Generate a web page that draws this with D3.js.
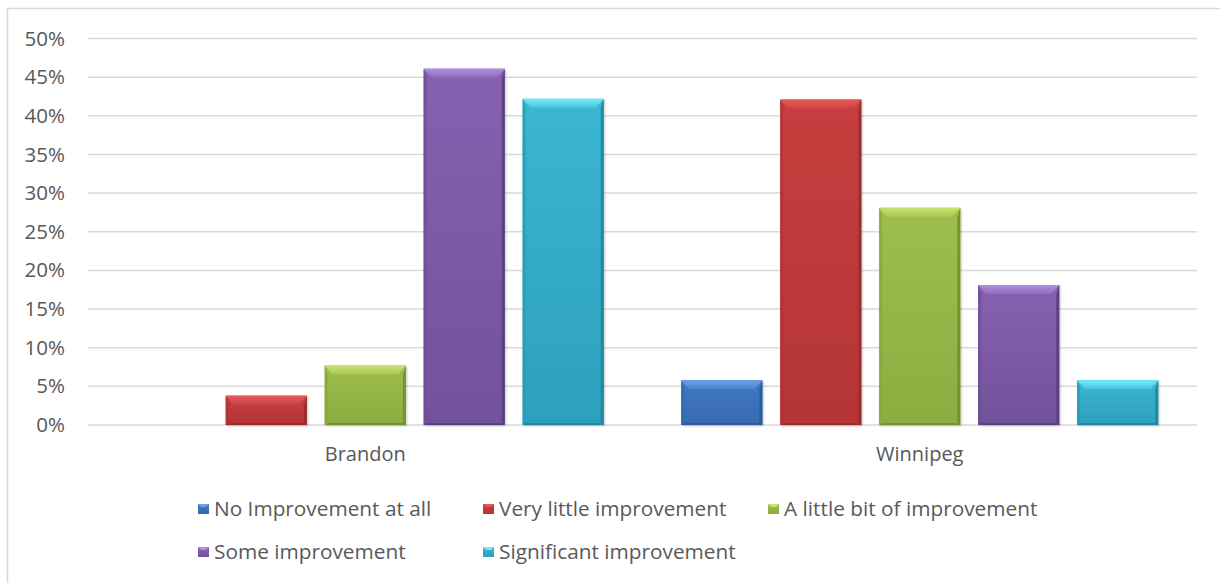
<!DOCTYPE html>
<html><head><meta charset="utf-8">
<script src="https://cdn.jsdelivr.net/npm/d3@7"></script>
<style>
html,body{margin:0;padding:0;background:#fff;}
svg{display:block;font-family:"Open Sans",sans-serif;}
</style></head>
<body>
<svg id="chart" width="1220" height="583"></svg>
<script>
const categories = ["Brandon", "Winnipeg"];
const seriesNames = ["No Improvement at all", "Very little improvement", "A little bit of improvement", "Some improvement", "Significant improvement"];
const brandonValues = [0, 3.8, 7.7, 46.1, 42.2];
const winnipegValues = [5.8, 42.1, 28.1, 18.1, 5.8];
const yTicks = [0, 5, 10, 15, 20, 25, 30, 35, 40, 45, 50];
const seriesColors = ["#3a72bd", "#c0393b", "#97b948", "#7d5aa8", "#31adca"];
const seriesLights = ["#6da3e3", "#e65a58", "#c8e46e", "#b08fe0", "#74ecfa"];
const seriesDarks = ["#2a5796", "#982c2b", "#6f8d2d", "#573c7c", "#1f819c"];

const valuesByCat = [brandonValues, winnipegValues];
const svg = d3.select("#chart");

// chart border
svg.append("rect").attr("x", 7.5).attr("y", 8.5).attr("width", 1230).attr("height", 600)
  .attr("fill", "#fff").attr("stroke", "#d9d9d9").attr("stroke-width", 1.5);

const plot = {left: 88, right: 1197, top: 38.5, bottom: 425};
const y = d3.scaleLinear().domain([0, 50]).range([plot.bottom, plot.top]);
const x0 = d3.scaleBand().domain(categories).range([plot.left, plot.right]).padding(0);
const groupW = 477;
const x1 = d3.scaleBand().domain(seriesNames).range([0, groupW]).paddingInner(0.18).paddingOuter(0);

// gridlines
svg.append("g").selectAll("line").data(yTicks).join("line")
  .attr("x1", plot.left).attr("x2", plot.right)
  .attr("y1", d => y(d)).attr("y2", d => y(d))
  .attr("stroke", "#d9d9d9").attr("stroke-width", 1.5);

// y axis labels
const yAxis = d3.axisLeft(y).tickValues(yTicks).tickFormat(d => d + "%").tickSize(0).tickPadding(0);
const gy = svg.append("g").attr("transform", `translate(65,0)`).call(yAxis);
gy.select(".domain").remove();
gy.selectAll("text").attr("font-size", 20.5).attr("fill", "#595959").attr("font-family", "Open Sans");

// x labels
const xAxis = d3.axisBottom(x0).tickSize(0).tickPadding(0);
const gx = svg.append("g").attr("transform", `translate(0,${plot.bottom + 22})`).call(xAxis);
gx.select(".domain").remove();
gx.selectAll("text").attr("font-size", 20).attr("fill", "#595959").attr("font-family", "Open Sans");

// gradients
const defs = svg.append("defs");
seriesNames.forEach((s, i) => {
  const g = defs.append("linearGradient").attr("id", "grad" + i).attr("x1", 0).attr("x2", 0).attr("y1", 0).attr("y2", 1);
  g.append("stop").attr("offset", "0%").attr("stop-color", d3.interpolateRgb(seriesColors[i], seriesLights[i])(0.15));
  g.append("stop").attr("offset", "100%").attr("stop-color", d3.interpolateRgb(seriesColors[i], seriesDarks[i])(0.3));
  const t = defs.append("linearGradient").attr("id", "top" + i).attr("x1", 0).attr("x2", 0).attr("y1", 0).attr("y2", 1);
  t.append("stop").attr("offset", "0%").attr("stop-color", seriesLights[i]);
  t.append("stop").attr("offset", "100%").attr("stop-color", d3.interpolateRgb(seriesColors[i], seriesLights[i])(0.35));
});
const shadow = defs.append("filter").attr("id", "shadow").attr("x", "-10%").attr("y", "-10%").attr("width", "130%").attr("height", "130%");
shadow.append("feDropShadow").attr("dx", 1).attr("dy", 1).attr("stdDeviation", 1.2).attr("flood-color", "#000").attr("flood-opacity", 0.25);

// bars
const bars = [];
categories.forEach((c, ci) => {
  seriesNames.forEach((s, si) => {
    const v = valuesByCat[ci][si];
    if (v > 0) bars.push({c, s, si, v});
  });
});
const gb = svg.append("g");
bars.forEach(d => {
  const x = x0(d.c) + x0.bandwidth() / 2 - groupW / 2 + x1(d.s);
  const w = x1.bandwidth();
  const yt = y(d.v);
  const h = plot.bottom - yt;
  const b = Math.min(9, h / 2);
  const sd = Math.min(8, h / 2);
  const e = 3;
  const g = gb.append("g");
  g.append("rect").attr("x", x).attr("y", yt).attr("width", w).attr("height", h)
    .attr("fill", `url(#grad${d.si})`).attr("filter", "url(#shadow)");
  const pts = a => a.map(p => p.join(",")).join(" ");
  // left bevel
  g.append("polygon").attr("points", pts([[x, yt], [x + e, yt + b], [x + e, yt + h - 2], [x, yt + h]]))
    .attr("fill", d3.interpolateRgb(seriesColors[d.si], seriesDarks[d.si])(0.4)).attr("opacity", 0.8);
  // right bevel
  g.append("polygon").attr("points", pts([[x + w, yt], [x + w - e, yt + b], [x + w - e, yt + h - 2], [x + w, yt + h]]))
    .attr("fill", seriesDarks[d.si]).attr("opacity", 0.85);
  // bottom
  g.append("polygon").attr("points", pts([[x, yt + h], [x + e, yt + h - 2], [x + w - e, yt + h - 2], [x + w, yt + h]]))
    .attr("fill", seriesDarks[d.si]).attr("opacity", 0.8);
  // top bevel
  g.append("polygon").attr("points", pts([[x, yt], [x + w, yt], [x + w - sd, yt + b], [x + sd, yt + b]]))
    .attr("fill", `url(#top${d.si})`);
});

// legend
const legendCols = [198, 483, 768];
const legendRows = [509, 552];
const gl = svg.append("g");
seriesNames.forEach((s, i) => {
  const lx = legendCols[i % 3];
  const ly = legendRows[Math.floor(i / 3)];
  gl.append("rect").attr("x", lx).attr("y", ly - 5).attr("width", 11).attr("height", 10)
    .attr("fill", `url(#grad${i})`);
  gl.append("polygon").attr("points", `${lx},${ly-5} ${lx+11},${ly-5} ${lx+8},${ly-2} ${lx+3},${ly-2}`)
    .attr("fill", seriesLights[i]);
  gl.append("text").attr("x", lx + 16).attr("y", ly).attr("dy", "0.35em")
    .attr("font-size", 20.8).attr("fill", "#595959").text(s);
});
</script>
</body></html>
